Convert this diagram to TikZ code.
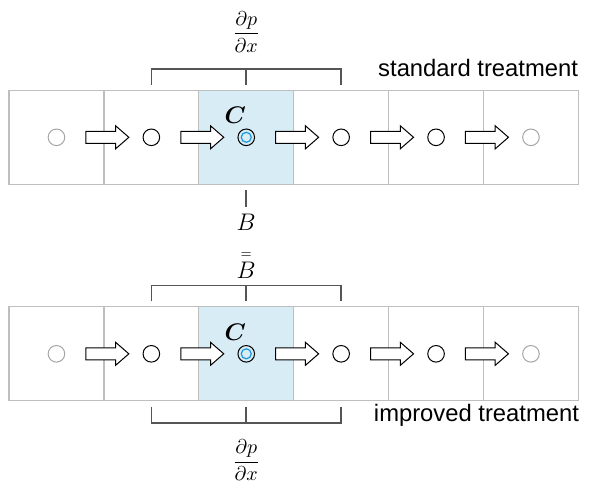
\documentclass[tikz,border=0pt]{standalone}
\usepackage{fontspec}
\setmainfont{Liberation Sans}
\usepackage{amsmath}
\usetikzlibrary{positioning,calc,shapes.arrows}
\definecolor{cellgray}{RGB}{190,190,190}
\definecolor{cellblue}{RGB}{216,236,245}
\definecolor{bracketgray}{RGB}{85,85,85}
\definecolor{dotgray}{RGB}{165,165,165}
\definecolor{dotblue}{RGB}{30,150,220}
\newcommand{\dpdx}{$\dfrac{\partial p}{\partial x}$}

\begin{document}
\begin{tikzpicture}[x=0.5pt, y=-0.5pt, node distance=0pt,
    cell/.style={rectangle,draw=cellgray,line width=0.6pt,minimum width=47.45pt,
      minimum height=47pt,inner sep=0pt,outer sep=0pt},
    dot/.style={circle,draw=black,line width=0.5pt,minimum size=8.3pt,inner sep=0pt},
    enddot/.style={dot,draw=dotgray},
    core/.style={circle,draw=dotblue,line width=0.6pt,minimum size=5pt,inner sep=0pt},
    flow/.style={single arrow,draw=black,fill=white,line width=0.5pt,inner xsep=0pt,
      inner ysep=2.75pt,outer sep=0pt,minimum height=21.5pt,single arrow head extend=2.75pt,
      single arrow tip angle=82,single arrow head indent=0pt},
    bracket/.style={draw=bracketgray,line width=0.8pt},
    sym/.style={font=\fontsize{11.5}{14}\selectfont,inner sep=0pt},
    frac/.style={font=\fontsize{10}{12}\selectfont,inner sep=0pt},
    treat/.style={font=\fontsize{11.9}{14}\selectfont,inner sep=0pt}]
  \useasboundingbox (0,0) rectangle (589,489);

  % two rows of cells, t = standard, b = improved
  \foreach \r/\yc in {t/137.3,b/353.8}{
    \node[cell] (\r1) at (56.45,\yc) {};
    \foreach \i/\f [evaluate=\i as \p using int(\i-1)] in {2/white,3/cellblue,4/white,5/white,6/white}
      \node[cell,fill=\f,right=of \r\p] (\r\i) {};
    \foreach \i/\s in {1/enddot,2/dot,3/dot,4/dot,5/dot,6/enddot}
      \node[\s] (\r c\i) at (\r\i) {};
    \node[core] (\r core) at (\r3) {};
    \foreach \i [evaluate=\i as \n using int(\i+1)] in {1,...,5}
      \node[flow] (\r a\i) at ($(\r c\i)!0.5!(\r c\n)$) {};
    \node[sym] (\r C) at ($(\r c3)+(-11,-22)$) {$\boldsymbol{C}$};
    % bracket over the stencil
    \draw[bracket] ($(\r2.north)+(0,-5.5)$) -- ++(0,-16) -| ($(\r4.north)+(0,-5.5)$);
    \draw[bracket] ($(\r3.north)+(0,-5.5)$) -- ++(0,-16) coordinate (\r M);
  }

  % standard treatment
  \node[frac,above=8pt of tM] (tfrac) {\dpdx};
  \draw[bracket] ($(t3.south)+(0,6)$) -- ++(0,17) coordinate (tB);
  \node[sym,below=3pt of tB] (tBlabel) {$B$};
  \node[treat,anchor=base east] (std) at ($(t6.north east)+(0,-13.8)$) {standard treatment};

  % improved treatment
  \node[sym,above=3pt of bM] (bBlabel) {$\overset{\scriptscriptstyle=}{B}$};
  \draw[bracket] ($(b2.south)+(0,5.7)$) -- ++(0,16.6) -| ($(b4.south)+(0,5.7)$);
  \draw[bracket] ($(b3.south)+(0,5.7)$) -- ++(0,16.6) coordinate (bL);
  \node[frac,below=8pt of bL] (bfrac) {\dpdx};
  \node[treat,anchor=base east] (imp) at ($(b6.south east)+(1,20.7)$) {improved treatment};
\end{tikzpicture}
\end{document}
